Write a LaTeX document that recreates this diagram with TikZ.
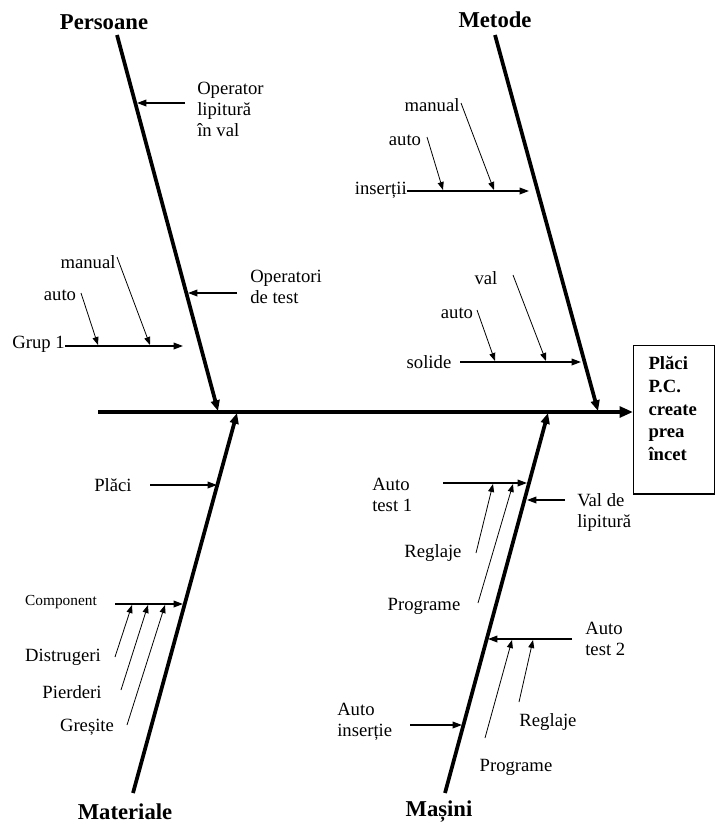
\documentclass[tikz,border=0pt]{standalone}
\usepackage{fontspec}
\setmainfont{Liberation Serif}
\usetikzlibrary{arrows.meta}

\begin{document}
\begin{tikzpicture}[x=0.75pt, y=-0.75pt,
    cat/.style={font=\fontsize{17}{20}\selectfont\bfseries, inner sep=0pt},
    lbl/.style={font=\fontsize{14}{15.75}\selectfont, inner sep=0pt, align=left},
    small/.style={font=\fontsize{11.5}{13}\selectfont, inner sep=0pt},
    effect/.style={draw, line width=0.8pt, anchor=north west, align=left,
        text width=38.25pt, inner xsep=11.25pt, inner ysep=8.25pt,
        font=\fontsize{14}{17}\selectfont\bfseries},
    spine/.style={line width=3.2pt, -{Triangle[length=10pt,width=8pt]}},
    bone/.style={line width=2.8pt, -{Triangle[length=8pt,width=6.5pt]}},
    branch/.style={line width=1pt, -{Triangle[length=7pt,width=5pt]}},
    twig/.style={line width=0.6pt, -{Triangle[length=6pt,width=4.5pt]}}]

    \useasboundingbox (0, 0) rectangle (715, 825);

    % Spine and effect
    \coordinate (tail) at (98, 412);
    \node at (633, 345) [effect] (effect) {Plăci\\P.C.\\create\\prea\\încet\\\mbox{}};
    \draw[spine] (tail) -- (tail -| effect.west);

    % Persoane
    \node at (104, 22) [cat] (pers) {Persoane};
    \coordinate (pers_top) at (117, 35);
    \coordinate (pers_tip) at (218, 411);
    \draw[bone] (pers_top) -- (pers_tip);

    \node at (197, 109) [lbl, anchor=west] (oplv) {Operator\\lipitură\\în val};
    \coordinate (oplv_s) at (185, 103);
    \coordinate (oplv_e) at (137, 103);
    \draw[branch] (oplv_s) -- (oplv_e);

    \node at (250, 287) [lbl, anchor=west] (optest) {Operatori\\de test};
    \coordinate (optest_s) at (237, 293);
    \coordinate (optest_e) at (188, 293);
    \draw[branch] (optest_s) -- (optest_e);

    \node at (65, 344) [lbl, anchor=east] (grup) {Grup 1};
    \coordinate (grup_e) at (183, 346);
    \draw[branch] (grup.east |- grup_e) -- (grup_e);

    \node at (60, 295) [lbl] (grup_auto) {auto};
    \coordinate (grup_auto_s) at (81, 293);
    \coordinate (grup_auto_e) at (98, 345);
    \draw[twig] (grup_auto_s) -- (grup_auto_e);

    \node at (88, 262) [lbl] (grup_man) {manual};
    \coordinate (grup_man_s) at (117, 257);
    \coordinate (grup_man_e) at (150, 345);
    \draw[twig] (grup_man_s) -- (grup_man_e);

    % Metode
    \node at (495, 20) [cat] (met) {Metode};
    \coordinate (met_top) at (495, 35);
    \coordinate (met_tip) at (598, 411);
    \draw[bone] (met_top) -- (met_tip);

    \node at (407, 190) [lbl, anchor=east] (ins) {inserții};
    \coordinate (ins_e) at (529, 191);
    \draw[branch] (ins.east |- ins_e) -- (ins_e);

    \node at (405, 140) [lbl] (ins_auto) {auto};
    \coordinate (ins_auto_s) at (427, 137);
    \coordinate (ins_auto_e) at (443, 190);
    \draw[twig] (ins_auto_s) -- (ins_auto_e);

    \node at (432, 105) [lbl] (ins_man) {manual};
    \coordinate (ins_man_s) at (461, 103);
    \coordinate (ins_man_e) at (494, 190);
    \draw[twig] (ins_man_s) -- (ins_man_e);

    \node at (429, 362) [lbl] (sol) {solide};
    \coordinate (sol_s) at (460, 362);
    \coordinate (sol_e) at (581, 362);
    \draw[branch] (sol_s) -- (sol_e);

    \node at (457, 313) [lbl] (sol_auto) {auto};
    \coordinate (sol_auto_s) at (477, 310);
    \coordinate (sol_auto_e) at (495, 361);
    \draw[twig] (sol_auto_s) -- (sol_auto_e);

    \node at (486, 278) [lbl] (sol_val) {val};
    \coordinate (sol_val_s) at (513, 275);
    \coordinate (sol_val_e) at (546, 361);
    \draw[twig] (sol_val_s) -- (sol_val_e);

    % Materiale
    \node at (125, 812) [cat] (mat) {Materiale};
    \coordinate (mat_bot) at (133, 793);
    \coordinate (mat_tip) at (237, 413);
    \draw[bone] (mat_bot) -- (mat_tip);

    \node at (113, 485) [lbl] (placi) {Plăci};
    \coordinate (placi_s) at (150, 485);
    \coordinate (placi_e) at (217, 485);
    \draw[branch] (placi_s) -- (placi_e);

    \node at (61, 602) [small] (comp) {Component};
    \coordinate (comp_s) at (115, 604);
    \coordinate (comp_e) at (183, 604);
    \draw[branch] (comp_s) -- (comp_e);

    \node at (63, 657) [lbl] (distr) {Distrugeri};
    \coordinate (distr_s) at (115, 657);
    \coordinate (distr_e) at (132, 605);
    \draw[twig] (distr_s) -- (distr_e);

    \node at (72, 692) [lbl] (pierd) {Pierderi};
    \coordinate (pierd_s) at (121, 690);
    \coordinate (pierd_e) at (148, 605);
    \draw[twig] (pierd_s) -- (pierd_e);

    \node at (87, 727) [lbl] (gres) {Greșite};
    \coordinate (gres_s) at (127, 725);
    \coordinate (gres_e) at (165, 605);
    \draw[twig] (gres_s) -- (gres_e);

    % Masini
    \node at (439, 812) [cat] (mas) {Mașini};
    \coordinate (mas_bot) at (445, 793);
    \coordinate (mas_tip) at (548, 413);
    \draw[bone] (mas_bot) -- (mas_tip);

    \node at (372, 495) [lbl, anchor=west] (at1) {Auto\\test 1};
    \coordinate (at1_s) at (443, 483);
    \coordinate (at1_e) at (527, 483);
    \draw[branch] (at1_s) -- (at1_e);

    \node at (433, 553) [lbl] (at1_regl) {Reglaje};
    \coordinate (at1_regl_s) at (476, 553);
    \coordinate (at1_regl_e) at (493, 484);
    \draw[twig] (at1_regl_s) -- (at1_regl_e);

    \node at (424, 606) [lbl] (at1_prog) {Programe};
    \coordinate (at1_prog_s) at (478, 603);
    \coordinate (at1_prog_e) at (513, 484);
    \draw[twig] (at1_prog_s) -- (at1_prog_e);

    \node at (577, 513) [lbl, anchor=west] (vallip) {Val de\\lipitură};
    \coordinate (vallip_s) at (565, 500);
    \coordinate (vallip_e) at (527, 500);
    \draw[branch] (vallip_s) -- (vallip_e);

    \node at (585, 639) [lbl, anchor=west] (at2) {Auto\\test 2};
    \coordinate (at2_s) at (572, 639);
    \coordinate (at2_e) at (488, 639);
    \draw[branch] (at2_s) -- (at2_e);

    \node at (516, 767) [lbl] (at2_prog) {Programe};
    \coordinate (at2_prog_s) at (485, 738);
    \coordinate (at2_prog_e) at (512, 640);
    \draw[twig] (at2_prog_s) -- (at2_prog_e);

    \node at (548, 722) [lbl] (at2_regl) {Reglaje};
    \coordinate (at2_regl_s) at (519, 702);
    \coordinate (at2_regl_e) at (533, 640);
    \draw[twig] (at2_regl_s) -- (at2_regl_e);

    \node at (337, 722) [lbl, anchor=west] (autoins) {Auto\\inserție};
    \coordinate (autoins_s) at (410, 725);
    \coordinate (autoins_e) at (462, 725);
    \draw[branch] (autoins_s) -- (autoins_e);

\end{tikzpicture}
\end{document}
